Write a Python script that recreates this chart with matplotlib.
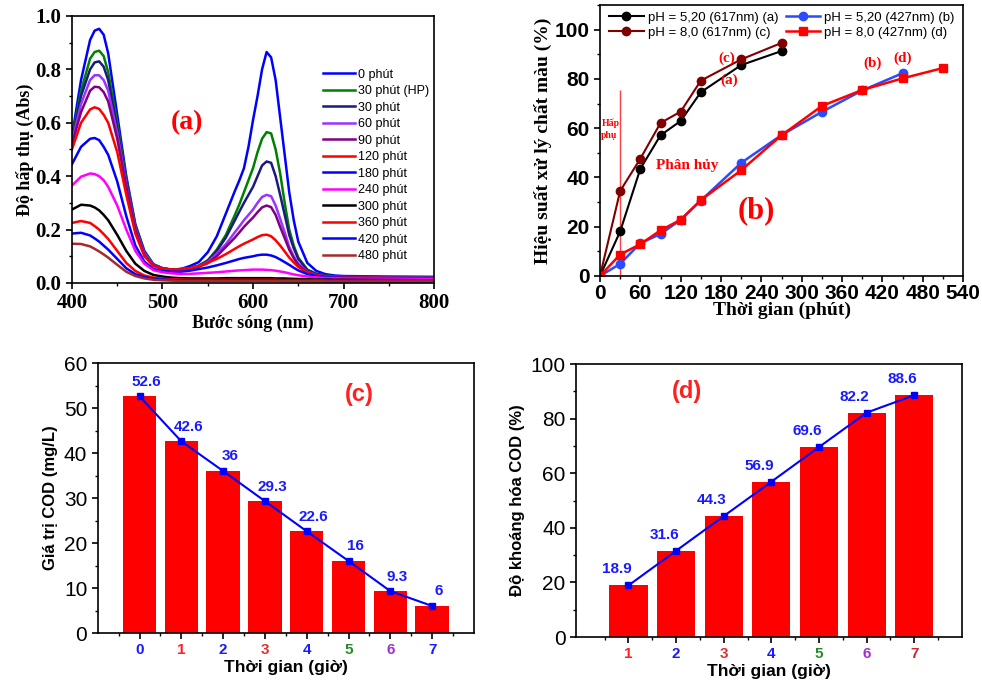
import matplotlib
matplotlib.use("Agg")
import matplotlib.pyplot as plt
from matplotlib.ticker import MultipleLocator

# ---- (a) UV-Vis spectra ----
wavelength = [400, 410, 420, 425, 430, 435, 440, 450, 460, 470, 480, 490, 500,
              510, 520, 530, 540, 550, 560, 570, 580, 585, 590, 595, 600,
              605, 610, 615, 620, 625, 630, 635,
              640, 645, 650, 660, 670, 680, 690, 700, 750, 800]
abs_0 = [0.55, 0.76, 0.91, 0.945, 0.952, 0.93, 0.86, 0.63, 0.40, 0.22, 0.12, 0.07, 0.055,
         0.05, 0.052, 0.063, 0.078, 0.115, 0.175, 0.26, 0.345, 0.385, 0.43, 0.51, 0.61,
         0.70, 0.80, 0.865, 0.845, 0.76, 0.62, 0.48,
         0.34, 0.235, 0.155, 0.075, 0.045, 0.033, 0.028, 0.026, 0.024, 0.023]
abs_30hp = [0.54, 0.72, 0.84, 0.865, 0.87, 0.85, 0.79, 0.60, 0.39, 0.215, 0.115, 0.07, 0.055,
            0.05, 0.052, 0.055, 0.065, 0.085, 0.125, 0.18, 0.255, 0.295, 0.34, 0.385, 0.43,
            0.49, 0.54, 0.565, 0.56, 0.50, 0.41, 0.30,
            0.20, 0.14, 0.095, 0.05, 0.035, 0.028, 0.025, 0.024, 0.022, 0.021]
abs_30 = [0.53, 0.70, 0.80, 0.826, 0.83, 0.81, 0.76, 0.58, 0.38, 0.21, 0.11, 0.068, 0.055,
          0.05, 0.052, 0.055, 0.064, 0.082, 0.12, 0.17, 0.235, 0.268, 0.30, 0.33, 0.36,
          0.40, 0.44, 0.455, 0.45, 0.40, 0.33, 0.255,
          0.18, 0.13, 0.09, 0.048, 0.033, 0.027, 0.024, 0.023, 0.021, 0.02]
abs_60 = [0.53, 0.67, 0.76, 0.778, 0.778, 0.76, 0.72, 0.56, 0.37, 0.205, 0.11, 0.068, 0.055,
          0.05, 0.052, 0.055, 0.063, 0.078, 0.11, 0.145, 0.19, 0.212, 0.235, 0.255, 0.275,
          0.30, 0.322, 0.33, 0.325, 0.29, 0.24, 0.19,
          0.135, 0.10, 0.072, 0.042, 0.03, 0.025, 0.023, 0.022, 0.02, 0.019]
abs_90 = [0.52, 0.64, 0.72, 0.735, 0.733, 0.715, 0.68, 0.54, 0.36, 0.20, 0.105, 0.066, 0.054,
          0.05, 0.051, 0.054, 0.061, 0.074, 0.10, 0.135, 0.17, 0.19, 0.21, 0.228, 0.245,
          0.265, 0.283, 0.29, 0.284, 0.255, 0.21, 0.168,
          0.125, 0.093, 0.067, 0.04, 0.029, 0.024, 0.022, 0.021, 0.019, 0.018]
abs_120 = [0.50, 0.60, 0.65, 0.658, 0.652, 0.63, 0.60, 0.49, 0.33, 0.185, 0.10, 0.063, 0.053,
           0.05, 0.05, 0.055, 0.062, 0.075, 0.09, 0.108, 0.128, 0.138, 0.147, 0.155, 0.163,
           0.172, 0.179, 0.181, 0.175, 0.16, 0.14, 0.118,
           0.095, 0.077, 0.06, 0.038, 0.028, 0.023, 0.021, 0.02, 0.018, 0.017]
abs_180 = [0.445, 0.51, 0.54, 0.543, 0.535, 0.51, 0.48, 0.38, 0.25, 0.14, 0.08, 0.052, 0.045,
           0.042, 0.042, 0.046, 0.052, 0.058, 0.066, 0.075, 0.085, 0.09, 0.094, 0.097, 0.10,
           0.104, 0.106, 0.106, 0.103, 0.097, 0.088, 0.078,
           0.068, 0.057, 0.047, 0.033, 0.026, 0.022, 0.02, 0.019, 0.017, 0.016]
abs_240 = [0.365, 0.398, 0.41, 0.408, 0.40, 0.385, 0.36, 0.29, 0.20, 0.12, 0.072, 0.048, 0.04,
           0.036, 0.034, 0.034, 0.036, 0.038, 0.04, 0.043, 0.046, 0.047, 0.048, 0.049, 0.05,
           0.05, 0.05, 0.049, 0.048, 0.046, 0.043, 0.04,
           0.036, 0.032, 0.029, 0.024, 0.021, 0.019, 0.018, 0.017, 0.016, 0.015]
abs_300 = [0.275, 0.293, 0.29, 0.283, 0.272, 0.255, 0.235, 0.18, 0.12, 0.072, 0.045, 0.03, 0.024,
           0.02, 0.018, 0.017, 0.017, 0.017, 0.017, 0.018, 0.018, 0.018, 0.018, 0.018, 0.018,
           0.018, 0.018, 0.018, 0.018, 0.017, 0.017, 0.017,
           0.016, 0.0155, 0.015, 0.014, 0.013, 0.013, 0.012, 0.012, 0.011, 0.01]
abs_360 = [0.225, 0.232, 0.225, 0.213, 0.20, 0.183, 0.165, 0.12, 0.075, 0.045, 0.028, 0.02, 0.016,
           0.014, 0.013, 0.012, 0.012, 0.012, 0.012, 0.012, 0.012, 0.012, 0.012, 0.012, 0.012,
           0.012, 0.012, 0.012, 0.012, 0.012, 0.011, 0.011,
           0.011, 0.011, 0.011, 0.01, 0.01, 0.01, 0.009, 0.009, 0.009, 0.008]
abs_420 = [0.185, 0.188, 0.178, 0.167, 0.155, 0.14, 0.125, 0.09, 0.055, 0.033, 0.022, 0.016, 0.013,
           0.011, 0.01, 0.01, 0.01, 0.01, 0.01, 0.01, 0.01, 0.01, 0.01, 0.01, 0.01,
           0.01, 0.01, 0.01, 0.01, 0.01, 0.009, 0.009,
           0.009, 0.009, 0.009, 0.009, 0.008, 0.008, 0.008, 0.008, 0.007, 0.007]
abs_480 = [0.147, 0.146, 0.137, 0.128, 0.118, 0.107, 0.095, 0.068, 0.042, 0.026, 0.017, 0.012, 0.01,
           0.009, 0.008, 0.008, 0.008, 0.008, 0.008, 0.008, 0.008, 0.008, 0.008, 0.008, 0.008,
           0.008, 0.008, 0.008, 0.008, 0.008, 0.007, 0.007,
           0.007, 0.007, 0.007, 0.007, 0.007, 0.006, 0.006, 0.006, 0.006, 0.006]
spectra = [abs_0, abs_30hp, abs_30, abs_60, abs_90, abs_120,
           abs_180, abs_240, abs_300, abs_360, abs_420, abs_480]
spectra_labels = ["0 phút", "30 phút (HP)", "30 phút", "60 phút", "90 phút", "120 phút",
                  "180 phút", "240 phút", "300 phút", "360 phút", "420 phút", "480 phút"]
spectra_colors = ["#0000ff", "#008000", "#1a1a80", "#9933ff", "#800080", "#ff0000",
                  "#0000ff", "#ff00ff", "#000000", "#ff0000", "#0000ff", "#a52a2a"]

# ---- (b) decolorization efficiency ----
t_617 = [0, 30, 60, 90, 120, 150, 210, 270]
eff_a = [0, 18.1, 43.5, 57.1, 62.9, 74.6, 85.6, 91.3]
eff_c = [0, 34.5, 47.6, 62.1, 66.7, 79.3, 87.9, 94.6]
t_b = [0, 30, 60, 90, 120, 150, 210, 270, 330, 390, 450]
eff_b = [0, 4.9, 13.3, 17.0, 22.8, 30.6, 45.9, 57.2, 66.6, 75.3, 82.3]
t_d = [0, 30, 60, 90, 120, 150, 210, 270, 330, 390, 450, 510]
eff_d = [0, 8.7, 12.9, 18.5, 22.8, 30.8, 42.9, 57.1, 69.0, 75.5, 80.2, 84.4]
adsorption_end = 30
adsorption_line_top = 75.5

# ---- (c) COD values ----
hours_c = [0, 1, 2, 3, 4, 5, 6, 7]
cod = [52.6, 42.6, 36, 29.3, 22.6, 16, 9.3, 6]
cod_labels = ["52.6", "42.6", "36", "29.3", "22.6", "16", "9.3", "6"]
tick_colors_c = ["#1a1aff", "#ff2020", "#1a1aff", "#e03030", "#1a1aff", "#2a8a2a", "#a030d0", "#1a1aff"]

# ---- (d) COD mineralization ----
hours_d = [1, 2, 3, 4, 5, 6, 7]
mineral = [18.9, 31.6, 44.3, 56.9, 69.6, 82.2, 88.6]
mineral_labels = ["18.9", "31.6", "44.3", "56.9", "69.6", "82.2", "88.6"]
tick_colors_d = ["#ff2020", "#1a1aff", "#e03030", "#1a1aff", "#2a8a2a", "#a030d0", "#d02828"]

serif = "Liberation Serif"
sans = "Liberation Sans"
plt.rc('font', family=sans)
plt.rc('axes', linewidth=1.2)
plt.rc('xtick.major', width=1.2, size=4)
plt.rc('ytick.major', width=1.2, size=4)
plt.rc('xtick.minor', width=1.0, size=2.5)
plt.rc('ytick.minor', width=1.0, size=2.5)

fig = plt.figure(figsize=(9.82, 6.83), dpi=100)
blue_txt = "#1a1aff"

# (a)
ax = fig.add_axes([0.0733, 0.5857, 0.3687, 0.3909])
for vals, lab, col in zip(spectra, spectra_labels, spectra_colors):
    ax.plot(wavelength, vals, color=col, lw=1.8, label=lab)
ax.set_xlim(400, 800)
ax.set_ylim(0, 1.0)
ax.xaxis.set_major_locator(MultipleLocator(100))
ax.xaxis.set_minor_locator(MultipleLocator(50))
ax.yaxis.set_minor_locator(MultipleLocator(0.1))
ax.set_yticks([0, 0.2, 0.4, 0.6, 0.8, 1.0])
ax.set_yticklabels(["0.0", "0.2", "0.4", "0.6", "0.8", "1.0"])
for lbl in ax.get_xticklabels() + ax.get_yticklabels():
    lbl.set_fontfamily(serif)
    lbl.set_fontweight('bold')
    lbl.set_fontsize(15)
ax.set_xlabel("Bước sóng (nm)", fontfamily=serif, fontweight='bold', fontsize=13, labelpad=1)
ax.set_ylabel("Độ hấp thụ (Abs)", fontfamily=serif, fontweight='bold', fontsize=13, labelpad=1)
ax.text(527, 0.6, "(a)", color="#ff0000", fontfamily=serif, fontweight='bold',
        fontsize=20, ha='center', va='center')
ax.legend(loc='upper right', bbox_to_anchor=(1.01, 0.835), frameon=False, fontsize=9,
          handlelength=2.6, handletextpad=0.2, labelspacing=0.36, borderpad=0.2)

# (b)
ax = fig.add_axes([0.611, 0.596, 0.3697, 0.3967])
ax.vlines(adsorption_end, 0, adsorption_line_top, color="#ff4040", lw=1.0)
ax.plot(t_617, eff_a, '-o', color="black", ms=6, lw=1.5, label="pH = 5,20 (617nm) (a)")
ax.plot(t_617, eff_c, '-o', color="#800000", ms=6, lw=1.5, label="pH = 8,0 (617nm) (c)")
ax.plot(t_b, eff_b, '-o', color="#2a4bff", ms=6, lw=1.8, label="pH = 5,20 (427nm) (b)")
ax.plot(t_d, eff_d, '-s', color="#ff0000", ms=5.5, lw=1.8, label="pH = 8,0 (427nm) (d)")
ax.set_xlim(0, 540)
ax.set_ylim(0, 110)
ax.xaxis.set_major_locator(MultipleLocator(60))
ax.xaxis.set_minor_locator(MultipleLocator(30))
ax.yaxis.set_major_locator(MultipleLocator(20))
ax.yaxis.set_minor_locator(MultipleLocator(10))
for lbl in ax.get_xticklabels() + ax.get_yticklabels():
    lbl.set_fontweight('bold')
    lbl.set_fontsize(15)
ax.tick_params(axis='x', pad=2)
ax.set_xlabel("Thời gian (phút)", fontfamily=serif, fontweight='bold', fontsize=14, labelpad=-1)
ax.set_ylabel("Hiệu suất xử lý chất màu (%)", fontfamily=serif, fontweight='bold',
              fontsize=14, labelpad=2)
red_kw = dict(color="#ff0000", fontfamily=serif, fontweight='bold')
ax.text(2, 59.5, "Hấp\nphụ", fontsize=7, ha='left', va='center', linespacing=1.5, **red_kw)
ax.text(84, 45, "Phân hủy", fontsize=11, ha='left', va='center', **red_kw)
ax.text(233, 26.6, "(b)", fontsize=22, ha='center', va='center', **red_kw)
ax.text(189, 88.5, "(c)", fontsize=11, ha='center', va='center', **red_kw)
ax.text(192, 79.5, "(a)", fontsize=11, ha='center', va='center', **red_kw)
ax.text(405, 86.5, "(b)", fontsize=11, ha='center', va='center', **red_kw)
ax.text(450, 88.5, "(d)", fontsize=11, ha='center', va='center', **red_kw)
ax.legend(loc='upper left', bbox_to_anchor=(0.0, 1.01), ncol=2, frameon=False, fontsize=9.5,
          handlelength=2.6, handletextpad=0.3, columnspacing=0.6, labelspacing=0.2,
          borderpad=0.2)

# (c)
ax = fig.add_axes([0.0995, 0.0732, 0.3832, 0.3953])
ax.bar(hours_c, cod, width=0.8, color="#ff0000")
ax.plot(hours_c, cod, '-s', color="#0000ff", ms=4, lw=1.5)
for x, y, s in zip(hours_c, cod, cod_labels):
    ax.annotate(s, (x, y), xytext=(5, 10.5), textcoords='offset points', ha='center',
                va='center', color=blue_txt, fontweight='bold', fontsize=11)
ax.set_xlim(-1, 8)
ax.set_ylim(0, 60)
ax.set_xticks(hours_c)
ax.set_xticks([-0.5, 0.5, 1.5, 2.5, 3.5, 4.5, 5.5, 6.5, 7.5], minor=True)
ax.yaxis.set_major_locator(MultipleLocator(10))
ax.yaxis.set_minor_locator(MultipleLocator(5))
ax.set_xticklabels([str(h) for h in hours_c], fontweight='bold', fontsize=11)
for lbl, col in zip(ax.get_xticklabels(), tick_colors_c):
    lbl.set_color(col)
for lbl in ax.get_yticklabels():
    lbl.set_fontsize(15)
ax.set_xlabel("Thời gian (giờ)", fontweight='bold', fontsize=12.5, labelpad=2)
ax.set_ylabel("Giá trị COD (mg/L)", fontweight='bold', fontsize=12, labelpad=4)
ax.text(5.25, 52.9, "(c)", color="#ff2020", fontweight='bold', fontsize=17,
        ha='center', va='center')

# (d)
ax = fig.add_axes([0.5866, 0.0673, 0.393, 0.3997])
ax.bar(hours_d, mineral, width=0.8, color="#ff0000")
ax.plot(hours_d, mineral, '-s', color="#0000ff", ms=4, lw=1.5)
for x, y, s in zip(hours_d, mineral, mineral_labels):
    ax.annotate(s, (x, y), xytext=(-8.5, 11.5), textcoords='offset points', ha='center',
                va='center', color=blue_txt, fontweight='bold', fontsize=11)
ax.set_xlim(-0.1, 8)
ax.set_ylim(0, 100)
ax.set_xticks(hours_d)
ax.set_xticks([0.5, 1.5, 2.5, 3.5, 4.5, 5.5, 6.5, 7.5], minor=True)
ax.yaxis.set_major_locator(MultipleLocator(20))
ax.yaxis.set_minor_locator(MultipleLocator(10))
ax.set_xticklabels([str(h) for h in hours_d], fontweight='bold', fontsize=11)
for lbl, col in zip(ax.get_xticklabels(), tick_colors_d):
    lbl.set_color(col)
for lbl in ax.get_yticklabels():
    lbl.set_fontsize(15)
ax.set_xlabel("Thời gian (giờ)", fontweight='bold', fontsize=12.5, labelpad=2)
ax.set_ylabel("Độ khoáng hóa COD (%)", fontweight='bold', fontsize=12, labelpad=4)
ax.text(2.22, 90, "(d)", color="#ff2020", fontweight='bold', fontsize=17,
        ha='center', va='center')

plt.savefig("out.png", dpi=100)
